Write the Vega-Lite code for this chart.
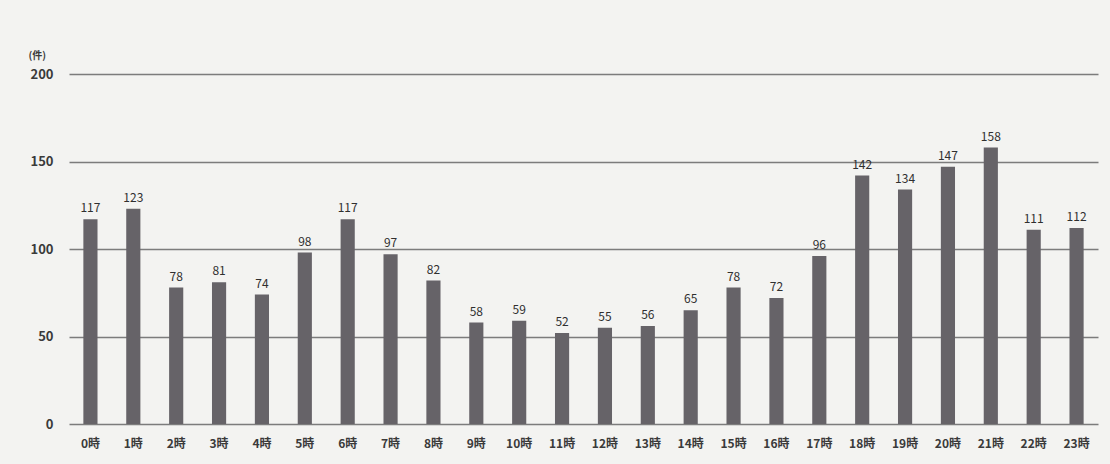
{
  "$schema": "https://vega.github.io/schema/vega-lite/v6.json",
  "autosize": {"type": "none"},
  "padding": {"left": 69, "top": 74, "right": 12, "bottom": 40},
  "width": 1029,
  "height": 350,
  "background": "#f3f3f1",
  "config": {"view": {"stroke": null}, "font": "Noto Sans CJK JP"},
  "data": {"values": [
    {"hour": "0時", "count": 117},
    {"hour": "1時", "count": 123},
    {"hour": "2時", "count": 78},
    {"hour": "3時", "count": 81},
    {"hour": "4時", "count": 74},
    {"hour": "5時", "count": 98},
    {"hour": "6時", "count": 117},
    {"hour": "7時", "count": 97},
    {"hour": "8時", "count": 82},
    {"hour": "9時", "count": 58},
    {"hour": "10時", "count": 59},
    {"hour": "11時", "count": 52},
    {"hour": "12時", "count": 55},
    {"hour": "13時", "count": 56},
    {"hour": "14時", "count": 65},
    {"hour": "15時", "count": 78},
    {"hour": "16時", "count": 72},
    {"hour": "17時", "count": 96},
    {"hour": "18時", "count": 142},
    {"hour": "19時", "count": 134},
    {"hour": "20時", "count": 147},
    {"hour": "21時", "count": 158},
    {"hour": "22時", "count": 111},
    {"hour": "23時", "count": 112}
  ]},
  "encoding": {
    "x": {"field": "hour", "type": "nominal", "sort": null,
      "scale": {"paddingInner": 0.67, "paddingOuter": 0.335},
      "axis": {"title": null, "labelAngle": 0, "domain": false, "ticks": false, "labelPadding": 14, "labelFontSize": 12, "labelFontWeight": "bold", "labelColor": "#3a3a3a"}},
    "y": {"field": "count", "type": "quantitative",
      "scale": {"domain": [0, 200]},
      "axis": {"title": "(件)", "titleAngle": 0, "titleX": -41, "titleY": -14, "titleAlign": "left", "titleFontSize": 10, "titleFontWeight": "bold", "titleColor": "#3a3a3a",
        "values": [0, 50, 100, 150, 200], "domain": false, "ticks": false, "labelPadding": 16, "labelFontSize": 13, "labelFontWeight": "bold", "labelColor": "#3a3a3a",
        "grid": true, "gridColor": "#6f6f6f", "gridWidth": 1.5, "gridOpacity": 0.9}}
  },
  "layer": [
    {"mark": {"type": "bar", "color": "#666368"}},
    {"mark": {"type": "text", "dy": -11, "fontSize": 12, "color": "#2f2f2f"},
     "encoding": {"text": {"field": "count", "type": "quantitative"}}}
  ]
}
